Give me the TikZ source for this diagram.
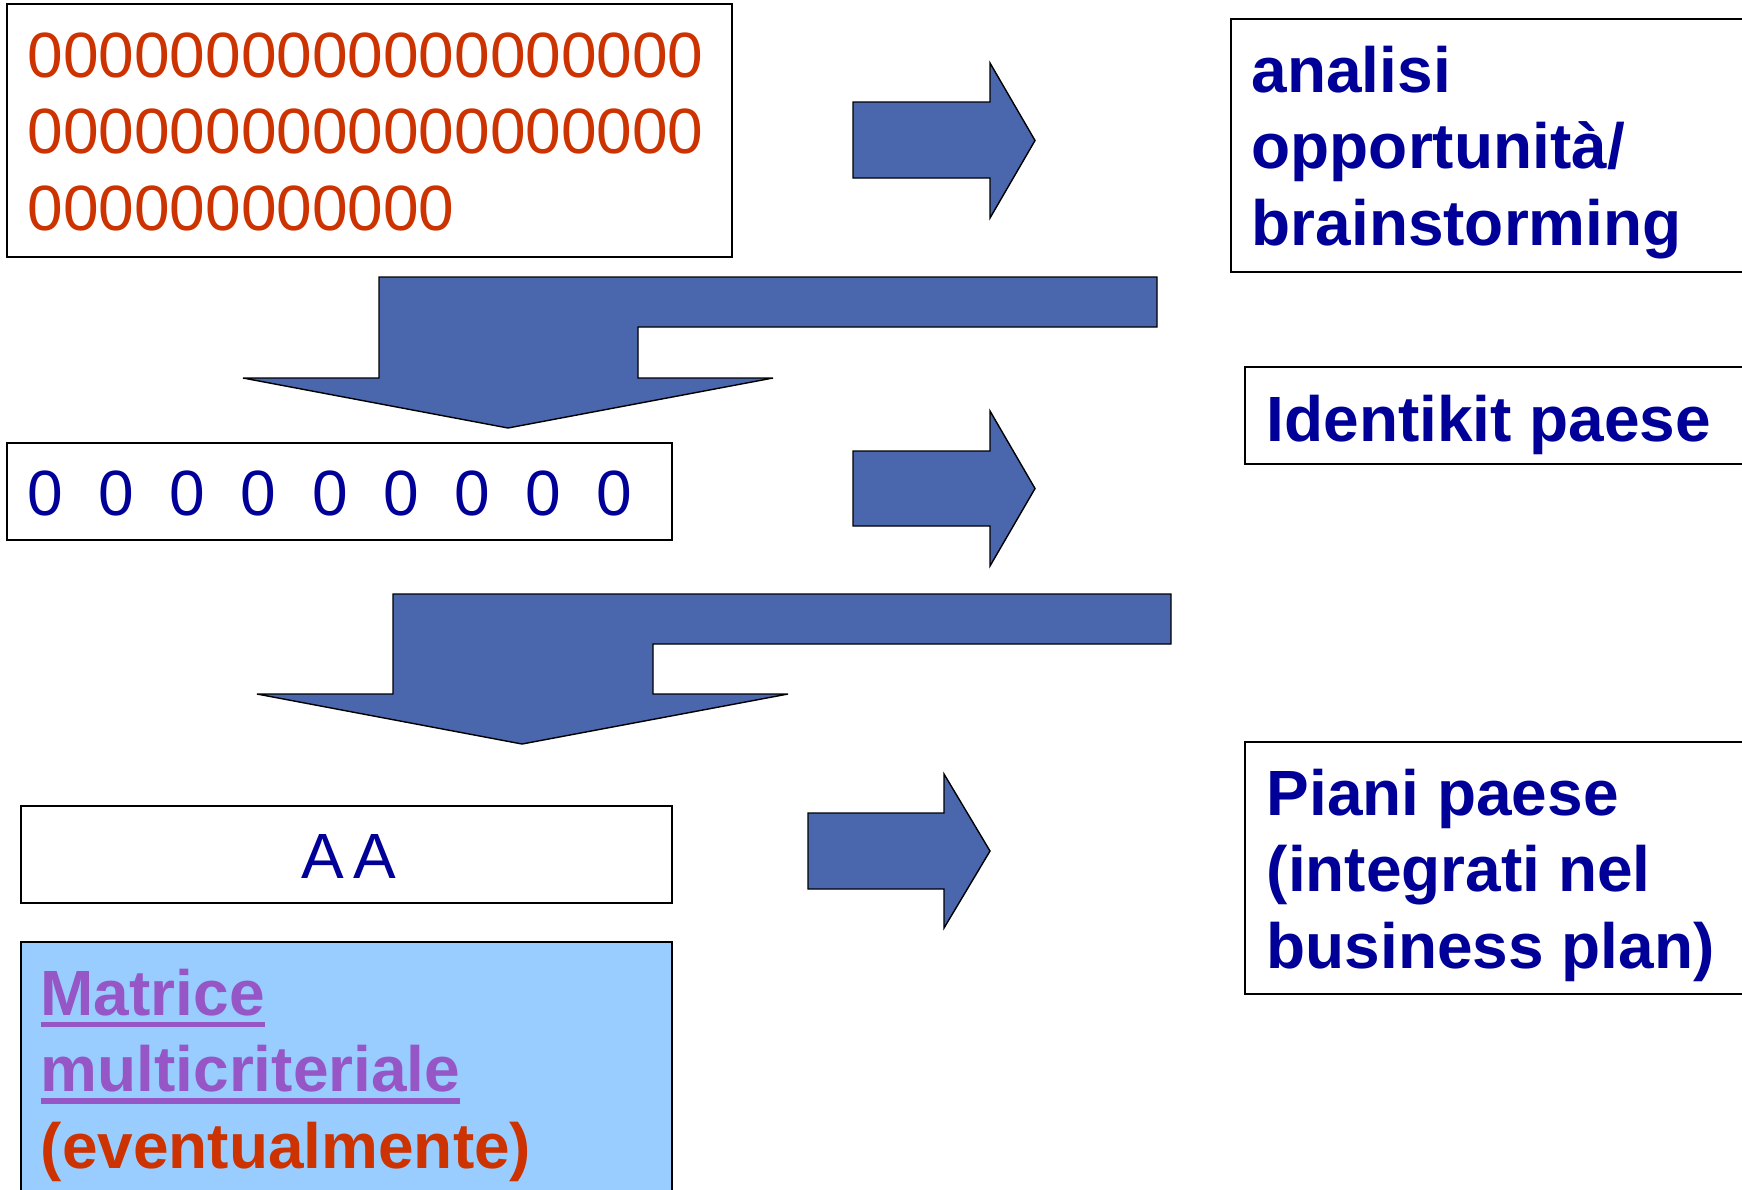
\documentclass[tikz,border=0pt]{standalone}
\usepackage{fontspec}
\setmainfont{Liberation Sans}

\definecolor{zerored}{RGB}{204,51,0}
\definecolor{deepblue}{RGB}{0,0,153}
\definecolor{arrowblue}{RGB}{74,103,173}
\definecolor{linkpurple}{RGB}{150,86,198}
\definecolor{paleblue}{RGB}{153,204,255}

% thick underline as wide as the word
\newcommand\ulword[1]{\setbox0=\hbox{#1}\rlap{\rule[-0.12cm]{\wd0}{0.055cm}}\box0}
\newcommand\stacklines[1]{\begin{tabular}[t]{@{}l@{}}#1\end{tabular}}

\tikzset{
  framebox/.style={draw=black, line width=0.5pt},
  blockarrow/.style={fill=arrowblue, draw=black, line width=0.4pt, line join=miter},
  bigtext/.style={anchor=base west, inner sep=0pt, font=\fontsize{18.2}{21.9}\selectfont},
  boldtext/.style={bigtext, font=\fontsize{18.2}{21.9}\selectfont\bfseries},
}

\begin{document}
\begin{tikzpicture}[y=-1cm]

\clip (0,0) rectangle (17.42,11.89);
\fill[white] (0,0) rectangle (17.42,11.89);

% boxes on the left
\draw [framebox] (0.07,0.04) rectangle (7.32,2.57);
\draw [framebox] (0.07,4.43) rectangle (6.72,5.40);
\draw [framebox] (0.21,8.06) rectangle (6.72,9.03);
\fill [paleblue] (0.21,9.42) rectangle (6.72,12.1);
\draw [framebox] (0.21,9.42) rectangle (6.72,12.1);

% boxes on the right
\draw [framebox] (12.31,0.19) rectangle (17.6,2.72);
\draw [framebox] (12.45,3.67) rectangle (17.6,4.64);
\draw [framebox] (12.45,7.42) rectangle (17.6,9.94);

% arrows to the right
\filldraw [blockarrow] (8.53,1.02) -- (9.90,1.02) -- (9.90,0.63) -- (10.35,1.405)
  -- (9.90,2.18) -- (9.90,1.78) -- (8.53,1.78) -- cycle;
\filldraw [blockarrow] (8.53,4.51) -- (9.90,4.51) -- (9.90,4.11) -- (10.35,4.885)
  -- (9.90,5.66) -- (9.90,5.26) -- (8.53,5.26) -- cycle;
\filldraw [blockarrow] (8.08,8.13) -- (9.44,8.13) -- (9.44,7.74) -- (9.90,8.51)
  -- (9.44,9.28) -- (9.44,8.89) -- (8.08,8.89) -- cycle;

% bent arrows coming back down
\filldraw [blockarrow] (11.57,2.77) -- (3.79,2.77) -- (3.79,3.78) -- (2.43,3.78)
  -- (5.08,4.28) -- (7.73,3.78) -- (6.38,3.78) -- (6.38,3.27) -- (11.57,3.27) -- cycle;
\filldraw [blockarrow] (11.71,5.94) -- (3.93,5.94) -- (3.93,6.94) -- (2.57,6.94)
  -- (5.22,7.44) -- (7.88,6.94) -- (6.53,6.94) -- (6.53,6.44) -- (11.71,6.44) -- cycle;

\node (zeros) at (0.27,0.77) [bigtext, text=zerored]
  {\stacklines{0000000000000000000\\0000000000000000000\\000000000000}};
\node (digits) at (0.27,5.15) [bigtext, text=deepblue]
  {0~~0~~0~~0~~0~~0~~0~~0~~0};
\node (aa) at (3.49,8.78) [bigtext, anchor=base, text=deepblue] {A\kern0.1cm A};
\node (matrix) at (0.40,10.15) [boldtext, text=linkpurple]
  {\stacklines{\ulword{Matrice}\\\ulword{multicriteriale}\\\textcolor{zerored}{(eventualmente)}}};

\node (analisi) at (12.51,0.92) [boldtext, text=deepblue]
  {\stacklines{analisi\\opportunità/\\brainstorming}};
\node (identikit) at (12.66,4.41) [boldtext, text=deepblue] {Identikit paese};
\node (piani) at (12.66,8.15) [boldtext, text=deepblue]
  {\stacklines{Piani paese\\(integrati nel\\business plan)}};

\end{tikzpicture}
\end{document}
